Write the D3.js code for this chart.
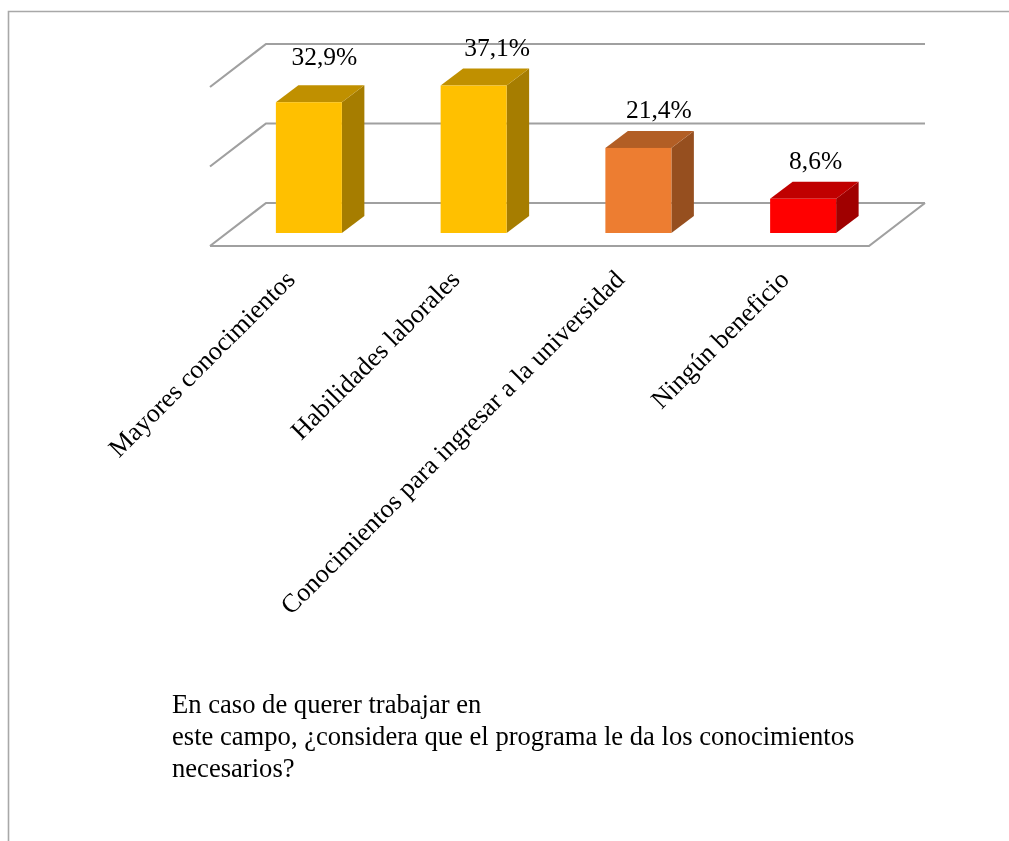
<!DOCTYPE html>
<html><head><meta charset="utf-8">
<script src="https://cdnjs.cloudflare.com/ajax/libs/d3/7.8.5/d3.min.js"></script>
<style>html,body{margin:0;padding:0;background:#fff}svg{display:block;filter:blur(.35px)}text{font-family:"Liberation Serif",serif;fill:#000}</style>
</head><body><div id="c"></div>
<script>
const categories=["Mayores conocimientos","Habilidades laborales","Conocimientos para ingresar a la universidad","Ningún beneficio"];
const values=[32.9,37.1,21.4,8.6];
const valueLabels=["32,9%","37,1%","21,4%","8,6%"];
const fronts=["#FFC000","#FFC000","#ED7D31","#FF0000"];
const tops=["#C09000","#C09000","#B25E25","#C00000"];
const sides=["#A67D00","#A67D00","#964F1F","#A00000"];
const gridTicks=[0,20,40];
const captionLines=["En caso de querer trabajar en","este campo, ¿considera que el programa le da los conocimientos","necesarios?"];

const W=1009,H=841;
const svg=d3.select("#c").append("svg").attr("width",W).attr("height",H);
const x=d3.scaleBand().domain(categories).range([210,869]);
const y=d3.scaleLinear().domain([0,40]).range([246,87]);
const depth={dx:56,dy:-43}, barDepth={dx:22.5,dy:-17}, barOffset={dx:16.5,dy:-13}, barW=66;
const gray="#a0a0a0";
const labelShift=[[-12,1],[-4,8],[-7,8],[-15,8]];

svg.append("path").attr("d",`M8.5,${H}V11.5H${W}`).attr("fill","none").attr("stroke","#a8a8a8").attr("stroke-width",1.6);

// walls and floor
const grid=svg.append("g").attr("fill","none").attr("stroke",gray).attr("stroke-width",2.2);
gridTicks.forEach(t=>{
  const yf=y(t), x0=x.range()[0], x1=x.range()[1];
  grid.append("path").attr("d",`M${x0},${yf}L${x0+depth.dx},${yf+depth.dy}H${x1+depth.dx}`);
});
grid.append("path").attr("d",`M${x.range()[0]},${y(0)}H${x.range()[1]}L${x.range()[1]+depth.dx},${y(0)+depth.dy}`);

// bars
const bars=svg.append("g").selectAll("g").data(categories).join("g");
bars.each(function(c,i){
  const g=d3.select(this);
  const xl=x(c)+x.bandwidth()/2-barW/2+barOffset.dx, xr=xl+barW;
  const yb=y(0)+barOffset.dy, yt=y(values[i])+barOffset.dy;
  const dx=barDepth.dx, dy=barDepth.dy;
  g.append("path").attr("fill",sides[i]).attr("d",`M${xr},${yt}L${xr+dx},${yt+dy}V${yb+dy}L${xr},${yb}Z`);
  g.append("path").attr("fill",tops[i]).attr("d",`M${xl},${yt}L${xl+dx},${yt+dy}H${xr+dx}L${xr},${yt}Z`);
  g.append("rect").attr("fill",fronts[i]).attr("x",xl).attr("y",yt).attr("width",barW).attr("height",yb-yt);
  g.append("text").attr("x",xl+barW/2+dx+5+labelShift[i][0]).attr("y",yt+dy-21+labelShift[i][1]).attr("text-anchor","middle").attr("font-size",25.5).text(valueLabels[i]);
  g.append("text").attr("text-anchor","end").attr("font-size",26.2)
    .attr("transform",`translate(${xl+20.5},${281}) rotate(-45)`).text(c);
});

// caption
svg.append("g").selectAll("text").data(captionLines).join("text")
  .attr("x",172).attr("y",(d,i)=>713+i*32).attr("font-size",26.6).text(d=>d);
</script></body></html>
